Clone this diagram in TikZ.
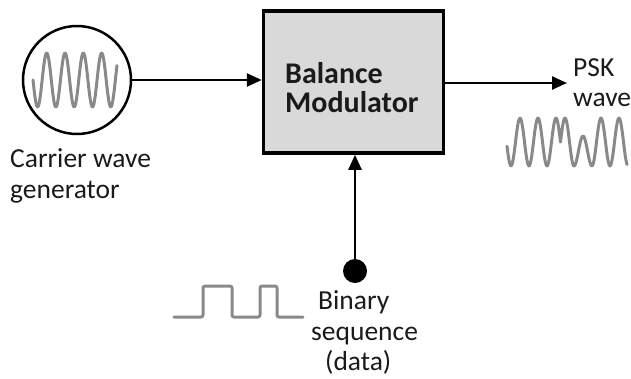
\documentclass[tikz,border=0pt]{standalone}
\usepackage{fontspec}
\setmainfont{Carlito}
\usetikzlibrary{arrows.meta}
\definecolor{wavegray}{RGB}{137,137,137}
\definecolor{boxgray}{RGB}{217,217,217}
\definecolor{ink}{RGB}{26,26,26}
\begin{document}
\begin{tikzpicture}[x=1pt,y=-1pt,
  labeltext/.style={font=\fontsize{27.5}{33}\selectfont, text=ink, inner sep=0pt, anchor=base west},
  boldtext/.style={font=\fontsize{30}{36}\selectfont\bfseries, text=ink, inner sep=0pt, anchor=base west},
  signal/.style={draw=wavegray, line width=3pt, line join=round, line cap=round},
  link/.style={draw=black, line width=2.5pt, -{Triangle[length=15pt,width=13pt]}}]
\useasboundingbox (0,0) rectangle (631,378);

% modulator block
\node[draw, line width=3.5pt, fill=boxgray, minimum width=180pt, minimum height=142pt, inner sep=0pt] (mod) at (353.5,82) {};
\node[boldtext] (modA) at (285,83) {Balance};
\node[boldtext] (modB) at (285,112) {Modulator};

% carrier generator
\node[draw, circle, line width=2.5pt, minimum size=108pt, inner sep=0pt] (gen) at (77,80) {};
\draw[signal] plot[domain=33:117, samples=140] (\x, {80+27*sin(19.67*(\x-33))});
\node[labeltext] (genA) at (10,167) {Carrier wave};
\node[labeltext] (genB) at (10,198) {generator};
\draw[link] (gen.east) -- (gen.east -| mod.west);

% PSK output
\coordinate (pskend) at (567,83);
\draw[link] (mod.east |- pskend) -- (pskend);
\node[labeltext] (pskA) at (573,76) {PSK};
\node[labeltext] (pskB) at (573,106) {wave};
\draw[signal] plot[domain=507:560.5, samples=60] (\x, {142-24*cos(20*(\x-520))})
  -- plot[domain=560.5:574, samples=20] (\x, {142+24*cos(20*(\x-520))})
  -- plot[domain=574:592, samples=25] (\x, {151+15*cos(20*(\x-520))})
  -- plot[domain=592:627, samples=40] (\x, {142+24*cos(20*(\x-520))});

% binary data input
\draw[signal, rounded corners=2pt] (174,317) -- (203,317) -- (203,286) -- (232,286) -- (232,317)
  -- (260,317) -- (260,286) -- (277,286) -- (277,317) -- (303,317);
\node[circle, fill=black, minimum size=24pt, inner sep=0pt] (data) at (355,271) {};
\draw[link] (data.center) -- (data.center |- mod.south);
\node[labeltext] (dataA) at (318,309) {Binary};
\node[labeltext] (dataB) at (311,340) {sequence};
\node[labeltext] (dataC) at (325,370) {(data)};
\end{tikzpicture}
\end{document}
